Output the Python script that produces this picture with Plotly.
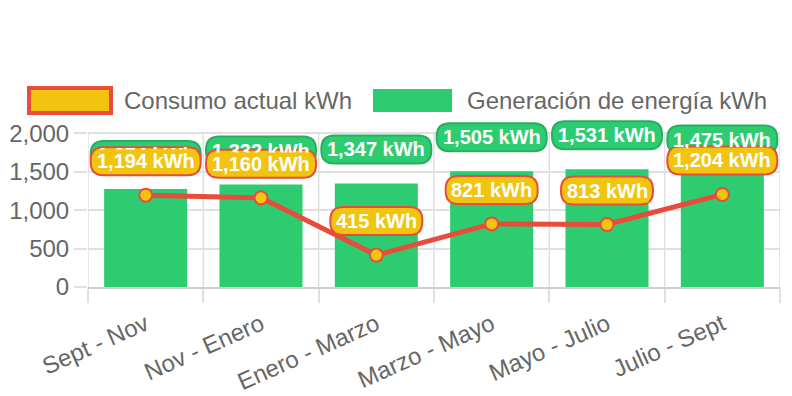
import plotly.graph_objects as go

# ---------------- data ----------------
categories = ["Sept - Nov", "Nov - Enero", "Enero - Marzo", "Marzo - Mayo", "Mayo - Julio", "Julio - Sept"]
generacion = [1274, 1332, 1347, 1505, 1531, 1475]
consumo = [1194, 1160, 415, 821, 813, 1204]
y_ticks = [0, 500, 1000, 1500, 2000]
series_names = ["Consumo actual kWh", "Generación de energía kWh"]
unit = "kWh"

# ---------------- style ----------------
GREEN = "#2ecc71"
GREEN_DARK = "#27ae60"
YELLOW = "#f1c40f"
RED = "#e74c3c"
GRAY = "#666666"
GRID = "#e0e0e0"
AXIS = "#cfcfcf"
FONT = "Liberation Sans, Arial, Helvetica, sans-serif"

# page offset of the plot div (default body margin)
OFF = 8
W, H = 792 - OFF, 396 - OFF
# plot area in page pixels: x 88..780, y(2000)=133.3, y(0)=287.3
ML = 88 - OFF
MR = W - (780 - OFF)
MT = 115 - OFF
MB = H - (287.3 - OFF)
plot_w = W - ML - MR
plot_h = H - MT - MB
YMAX = y_ticks[-1] * plot_h / 154.0  # keep 0..2000 spanning 154 px
LABEL_SHIFT = 34


def px(x):
    return (x - OFF - ML) / plot_w


def py(y):
    return (H - MB - (y - OFF)) / plot_h


def rrect(w, h, r, cy):
    x0, x1 = -w / 2, w / 2
    y0, y1 = cy - h / 2, cy + h / 2
    return (f"M{x0 + r},{y0} L{x1 - r},{y0} Q{x1},{y0} {x1},{y0 + r} "
            f"L{x1},{y1 - r} Q{x1},{y1} {x1 - r},{y1} L{x0 + r},{y1} "
            f"Q{x0},{y1} {x0},{y1 - r} L{x0},{y0 + r} Q{x0},{y0} {x0 + r},{y0} Z")


def fmt(v):
    return f"{v:,} {unit}"


fig = go.Figure()
fig.add_bar(x=categories, y=generacion, marker_color=GREEN, marker_line_width=0,
            name=series_names[1], showlegend=False)
fig.add_scatter(x=categories, y=consumo, mode="lines+markers", name=series_names[0],
                line=dict(color=RED, width=5),
                marker=dict(size=13, color=YELLOW, line=dict(color=RED, width=2)),
                showlegend=False)

shapes = []
# vertical grid lines at category boundaries (0..2000)
for i in range(len(categories) + 1):
    shapes.append(dict(type="line", xref="x", yref="y", x0=i - 0.5, x1=i - 0.5,
                       y0=y_ticks[0], y1=y_ticks[-1], line=dict(color=GRID, width=1.5),
                       layer="below"))

annotations = []
# green value labels
for c, v in zip(categories, generacion):
    t = fmt(v)
    w = 9 * len(t) + 29
    shapes.append(dict(type="path", xref="x", yref="y", xsizemode="pixel", ysizemode="pixel",
                       xanchor=c, yanchor=v, path=rrect(w, 28, 13, LABEL_SHIFT),
                       fillcolor=GREEN, line=dict(color=GREEN_DARK, width=2), layer="above"))
    annotations.append(dict(x=c, y=v, xref="x", yref="y", yshift=LABEL_SHIFT, text=f"<b>{t}</b>",
                            showarrow=False, xanchor="center", yanchor="middle",
                            font=dict(family=FONT, size=20, color="white")))
# yellow value labels
for c, v in zip(categories, consumo):
    t = fmt(v)
    w = 9 * len(t) + 29
    shapes.append(dict(type="path", xref="x", yref="y", xsizemode="pixel", ysizemode="pixel",
                       xanchor=c, yanchor=v, path=rrect(w, 28, 13, LABEL_SHIFT),
                       fillcolor=YELLOW, line=dict(color=RED, width=2), layer="above"))
    annotations.append(dict(x=c, y=v, xref="x", yref="y", yshift=LABEL_SHIFT, text=f"<b>{t}</b>",
                            showarrow=False, xanchor="center", yanchor="middle",
                            bgcolor=YELLOW, borderpad=0,
                            font=dict(family=FONT, size=20, color="white")))

# custom legend
shapes.append(dict(type="rect", xref="paper", yref="paper", x0=px(29), x1=px(111),
                   y0=py(113), y1=py(88), fillcolor=YELLOW, line=dict(color=RED, width=4)))
shapes.append(dict(type="rect", xref="paper", yref="paper", x0=px(373), x1=px(452),
                   y0=py(112), y1=py(89), fillcolor=GREEN, line=dict(width=0)))
annotations.append(dict(xref="paper", yref="paper", x=px(122), y=py(100), xanchor="left",
                        yanchor="middle", showarrow=False, text=series_names[0],
                        font=dict(family=FONT, size=24, color=GRAY)))
annotations.append(dict(xref="paper", yref="paper", x=px(465), y=py(100), xanchor="left",
                        yanchor="middle", showarrow=False, text=series_names[1],
                        font=dict(family=FONT, size=24, color=GRAY)))

fig.update_layout(
    width=W, height=H,
    margin=dict(l=ML, r=MR, t=MT, b=MB, pad=0, autoexpand=False),
    paper_bgcolor="white", plot_bgcolor="white",
    bargap=0.28,
    showlegend=False,
    shapes=shapes,
    annotations=annotations,
    font=dict(family=FONT, color=GRAY),
    xaxis=dict(type="category", tickson="boundaries", ticks="outside", ticklen=14,
               tickcolor=GRID, tickwidth=1.5, showgrid=False, showline=True, linecolor=AXIS,
               linewidth=2, tickangle=-24, ticklabelstandoff=12,
               tickfont=dict(family=FONT, size=24, color=GRAY),
               automargin=False, range=[-0.5, len(categories) - 0.5]),
    yaxis=dict(range=[0, YMAX], tickvals=y_ticks, tickformat=",", showgrid=True,
               gridcolor=GRID, gridwidth=1.5, zeroline=False, ticks="outside", ticklen=13,
               tickcolor=GRID, tickwidth=1.5, showline=False, automargin=False,
               tickfont=dict(family=FONT, size=24, color=GRAY)),
)

fig.write_html("out.html")
